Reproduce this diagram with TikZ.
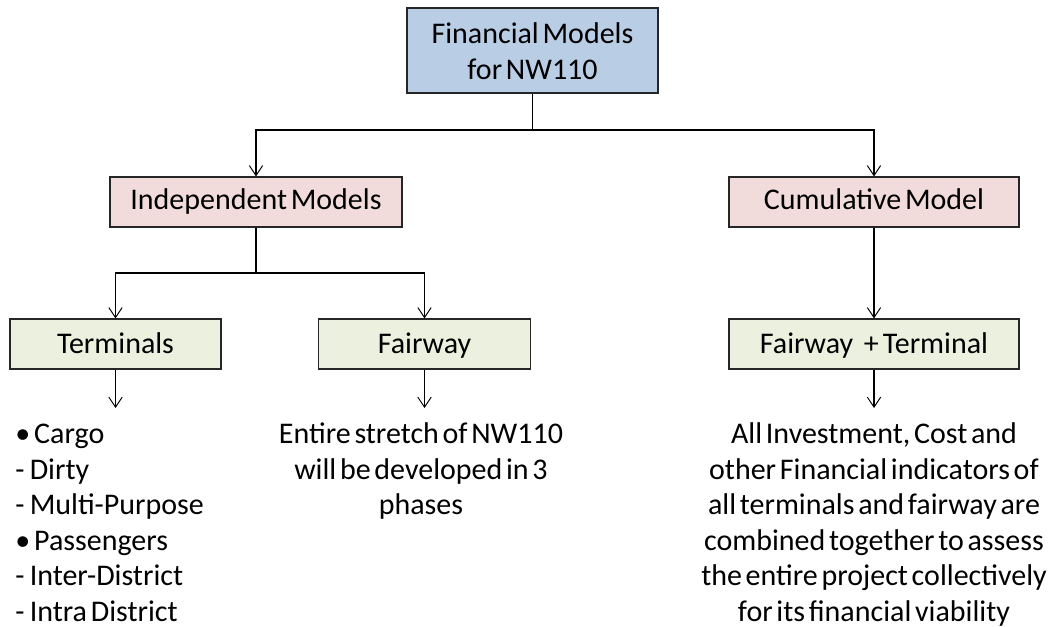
\documentclass[tikz,border=0pt]{standalone}
\usepackage{fontspec}
\setmainfont[WordSpace=0.55]{Carlito}
\usetikzlibrary{arrows.meta}
\definecolor{topblue}{HTML}{B9CDE5}
\definecolor{midpink}{HTML}{F2DCDB}
\definecolor{lowgreen}{HTML}{EBF1DE}
\begin{document}
\begin{tikzpicture}[x=0.75pt,y=-0.75pt,
  box/.style={draw=black!85, line width=0.9pt, inner sep=0pt, align=center,
    font=\fontsize{22.5}{27}\selectfont},
  pinkbox/.style={box, fill=midpink, text height=15.5pt, text depth=3.5pt, minimum height=37.5pt},
  greenbox/.style={box, fill=lowgreen, text height=16.5pt, text depth=2.5pt, minimum height=37.5pt},
  conn/.style={line width=0.9pt, draw=black},
  arr/.style={conn, -{Straight Barb[length=7.5pt,width=10pt,line width=0.7pt]}},
  body/.style={inner sep=0pt, font=\fontsize{22.5}{26.6}\selectfont}]
\useasboundingbox (0,0) rectangle (1060,627);
\node[box, fill=topblue, minimum width=188.25pt, minimum height=63.75pt] (top) at (532.5,50.5) {\rule{0pt}{16pt}Financial Models\\for NW110};
\node[pinkbox, minimum width=219pt] (ind) at (256,202) {Independent Models};
\node[pinkbox, minimum width=217.5pt] (cum) at (874,202) {Cumulative Model};
\node[greenbox, minimum width=158.25pt] (term) at (115.5,344) {Terminals};
\node[greenbox, minimum width=159pt] (fair) at (424.5,344) {Fairway};
\node[greenbox, minimum width=217.5pt] (ft) at (874,344) {Fairway\hspace{8pt}+\hspace{3pt}Terminal};
\node[body, align=left, anchor=north west] (list) at (15,421) {\rule{0pt}{17pt}•\hspace{3pt}Cargo\\-\hspace{4pt}Dirty\\-\hspace{4pt}Multi-Purpose\\•\hspace{3pt}Passengers\\-\hspace{4pt}Inter-District\\-\hspace{4pt}Intra District};
\node[body, align=center, anchor=north] (ftext) at (421,421) {\rule{0pt}{17pt}Entire stretch of NW110\\will be developed in 3\\phases};
\node[body, align=center, anchor=north] (ctext) at (874,421) {\rule{0pt}{17pt}All Investment, Cost and\\other Financial indicators of\\all terminals and fairway are\\combined together to assess\\the entire project collectively\\for its financial viability};
\coordinate (j1) at (top.south |- 0,130);
\coordinate (j2) at (ind.south |- 0,273);
\draw[conn] (top.south) -- (j1);
\draw[arr] (j1) -| (ind.north);
\draw[arr] (j1) -| (cum.north);
\draw[conn] (ind.south) -- (j2);
\draw[arr] (j2) -| (term.north);
\draw[arr] (j2) -| (fair.north);
\draw[arr] (cum.south) -- (ft.north);
\coordinate (t1) at (term.south |- 0,408);
\coordinate (t2) at (fair.south |- 0,408);
\coordinate (t3) at (ft.south |- 0,408);
\draw[arr] (term.south) -- (t1);
\draw[arr] (fair.south) -- (t2);
\draw[arr] (ft.south) -- (t3);
\end{tikzpicture}
\end{document}
